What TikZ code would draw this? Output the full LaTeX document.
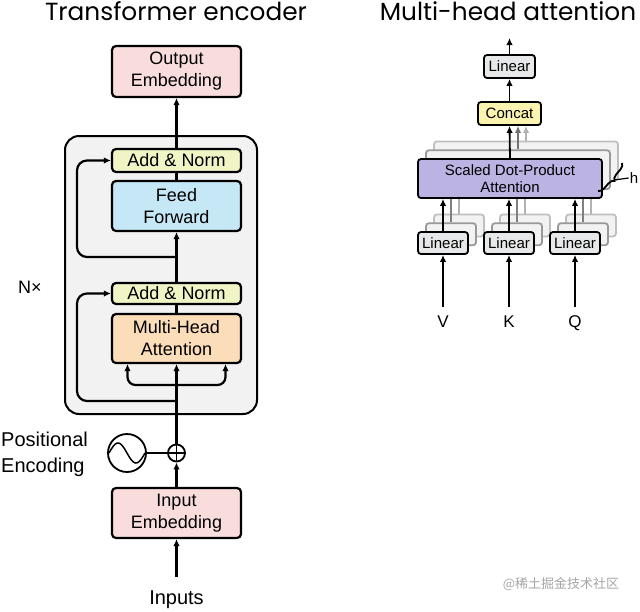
\documentclass[tikz,border=0pt]{standalone}
\usepackage{fontspec}
\setmainfont{Liberation Sans}
\newfontfamily\titlefont{Poppins}
\newfontfamily\cjkfont{Noto Sans CJK SC}
\usetikzlibrary{arrows.meta,decorations.pathreplacing}

\definecolor{embpink}{HTML}{F9DDDD}
\definecolor{normgreen}{HTML}{F1F5C6}
\definecolor{ffblue}{HTML}{C6E7F5}
\definecolor{mhaorange}{HTML}{FCDDB9}
\definecolor{encgray}{HTML}{F2F2F2}
\definecolor{lingray}{HTML}{E7E8E9}
\definecolor{catyellow}{HTML}{FBF3B0}
\definecolor{sdpurple}{HTML}{BBB4E2}

\begin{document}
\begin{tikzpicture}[x=1pt,y=-1pt,
    ttl/.style={inner sep=0pt, font=\titlefont\fontsize{24.8}{28}\selectfont},
    blk/.style={draw, line width=2.2pt, rounded corners=4pt, align=center,
      inner sep=0pt, minimum width=129pt, font=\fontsize{18}{22}\selectfont},
    sml/.style={draw, line width=1.8pt, rounded corners=3pt, align=center,
      inner sep=0pt, font=\fontsize{15}{17}\selectfont},
    ghost/.style={sml, draw=black!#1, fill=black!5},
    arr/.style={-{Latex[length=7pt,width=6.5pt]}, line width=2.2pt},
    wire/.style={line width=2.2pt},
    lbl/.style={inner sep=1pt, font=\fontsize{20}{26}\selectfont}]
  \useasboundingbox[fill=white] (0,0) rectangle (640,611);
  % titles
  \node[ttl, anchor=base] (tenc) at (176,20) {Transformer encoder};
  \node[ttl, anchor=base] (tmha) at (508,20) {Multi-head attention};

  % encoder blocks
  \node[draw, line width=2pt, rounded corners=14pt, fill=encgray,
    minimum width=192pt, minimum height=278pt] (enc) at (161,275) {};
  \node[blk, fill=embpink, minimum height=51pt] (outemb) at (176.5,71.5) {Output\\Embedding};
  \node[blk, fill=normgreen, minimum height=23pt] (addtop) at (176.5,160.5) {Add \& Norm};
  \node[blk, fill=ffblue, minimum height=50pt] (ff) at (176.5,206) {Feed\\Forward};
  \node[blk, fill=normgreen, minimum height=21pt] (addbot) at (176.5,293.5) {Add \& Norm};
  \node[blk, fill=mhaorange, minimum height=49pt] (mha) at (176.5,338.5) {Multi-Head\\Attention};
  \node[blk, fill=embpink, minimum height=50pt] (inemb) at (176.5,513) {Input\\Embedding};
  \node[circle, draw, line width=1.8pt, minimum size=17pt, inner sep=0pt] (plus) at (176.5,453) {};
  \node[circle, draw, line width=1.8pt, minimum size=38pt, inner sep=0pt] (pe) at (127,453) {};
  \draw[line width=1.5pt] plot[domain=-1:1, samples=40] ({127+18*\x}, {453+10*sin(180*\x)});
  \node[lbl, anchor=base] (inputs) at (176.5,604) {Inputs};
  \node[lbl, align=left, anchor=west] (pelbl) at (0,454) {Positional\\Encoding};
  \node[lbl, font=\fontsize{18}{22}\selectfont] (nx) at (30,287) {N×};
  \coordinate (split) at (176.5,385);
  \coordinate (res1) at (176.5,401);
  \coordinate (res2) at (176.5,257);
  \coordinate (lx) at (77,0);

  % encoder edges
  \draw[arr, shorten <=12pt] (inputs.north) -- (inemb.south);
  \draw[arr] (inemb.north) -- (plus.south);
  \draw[wire, line width=1.8pt] (pe.east) -- (plus.west);
  \draw[line width=1.5pt] (plus.west) -- (plus.east) (plus.north) -- (plus.south);
  \draw[arr] (plus.north) -- (mha.south);
  \draw[arr, rounded corners=8pt] (split) -| ([xshift=-49pt]mha.south);
  \draw[arr, rounded corners=8pt] (split) -| ([xshift=49pt]mha.south);
  \draw[arr, rounded corners=10pt] (res1) -| (lx |- addbot.west) -- (addbot.west);
  \draw[wire] (mha.north) -- (addbot.south);
  \draw[arr] (addbot.north) -- (ff.south);
  \draw[arr, rounded corners=10pt] (res2) -| (lx |- addtop.west) -- (addtop.west);
  \draw[wire] (ff.north) -- (addtop.south);
  \draw[arr] (addtop.north) -- (outemb.south);

  % attention heads, back copies first
  \foreach \d/\c in {16/25, 8/40}
    \node[ghost=\c, minimum width=184pt, minimum height=39pt] (sd\d) at (510+\d,178.5-\d*1.1) {};
  \foreach \n/\x in {v/443, k/509, q/575}
    \foreach \d/\c in {16/25, 8/40}
      \node[ghost=\c, minimum width=50pt, minimum height=22pt] (l\n\d) at (\x+\d,243-\d*1.1) {};
  \foreach \n in {v,k,q}
    \foreach \d/\c in {16/30, 8/50}
      \draw[wire, line width=1.8pt, black!\c] (l\n\d.north) -- (l\n\d.north |- 510,199);

  % attention blocks
  \node[sml, fill=lingray, minimum width=51pt, minimum height=23pt] (lin) at (509.5,66.5) {Linear};
  \node[sml, fill=catyellow, minimum width=63pt, minimum height=23pt] (cat) at (509.5,113.5) {Concat};
  \node[sml, fill=sdpurple, minimum width=184pt, minimum height=39pt] (sdpa) at (510,178.5) {Scaled Dot-Product\\Attention};
  \node[sml, fill=lingray, minimum width=50pt, minimum height=22pt] (linv) at (443,243) {Linear};
  \node[sml, fill=lingray, minimum width=50pt, minimum height=22pt] (link) at (509,243) {Linear};
  \node[sml, fill=lingray, minimum width=50pt, minimum height=22pt] (linq) at (575,243) {Linear};
  \node[lbl, anchor=base, font=\fontsize{17}{20}\selectfont] (v) at (443,327) {V};
  \node[lbl, anchor=base, font=\fontsize{17}{20}\selectfont] (k) at (509,327) {K};
  \node[lbl, anchor=base, font=\fontsize{17}{20}\selectfont] (q) at (575,327) {Q};
  \node[inner sep=1pt, font=\fontsize{15}{17}\selectfont] (h) at (634,178) {h};
  \coordinate (out) at (509.5,38);
  \coordinate (hb) at (614,180);

  % attention edges
  \draw[arr, line width=1.8pt] (lin.north) -- (out);
  \draw[arr, line width=1.8pt] (cat.north) -- (lin.south);
  \draw[arr, line width=1.8pt] (sdpa.north) -- (cat.south);
  \draw[arr, line width=1.8pt, black!55] (sd8.north) -- (sd8.north |- cat.south);
  \draw[arr, line width=1.8pt, black!30] (sd16.north) -- (sd16.north |- cat.south);
  \foreach \n in {v,k,q} {
    \draw[arr, line width=1.8pt] (lin\n.north) -- (lin\n.north |- sdpa.south);
    \draw[arr, line width=1.8pt, shorten <=7pt] (\n.north) -- (lin\n.south);
  }
  \draw[line width=1.8pt, decorate, decoration={brace, amplitude=6pt}] (622,163) -- (598,191);
  \draw[line width=1.2pt] (hb) -- (h.west);

  % watermark
  \node[text=black!35, font=\cjkfont\fontsize{13}{15}\selectfont] (wm) at (561,584) {@稀土掘金技术社区};
\end{tikzpicture}
\end{document}
